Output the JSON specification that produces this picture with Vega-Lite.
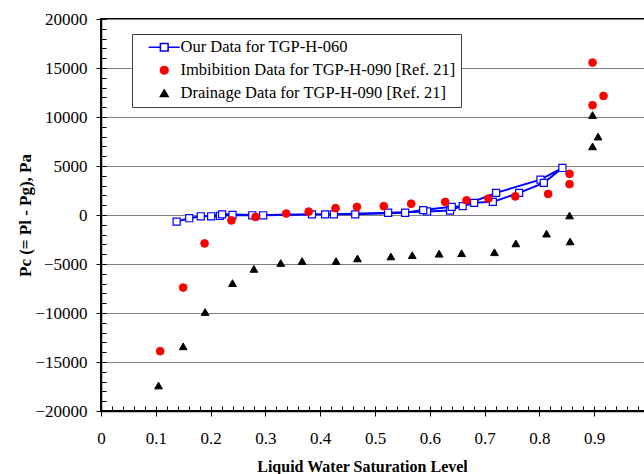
{
  "$schema": "https://vega.github.io/schema/vega-lite/v6.json",
  "width": 548,
  "height": 392,
  "autosize": {"type": "none"},
  "padding": {"left": 101, "top": 19, "right": 0, "bottom": 63},
  "background": "white",
  "config": {
    "view": {"stroke": "black", "strokeWidth": 2},
    "font": "Liberation Serif",
    "legend": {"strokeWidth": 1},
    "axis": {
      "labelFont": "Liberation Serif",
      "labelFontSize": 17,
      "labelColor": "black",
      "titleFont": "Liberation Serif",
      "titleFontWeight": "bold",
      "titleColor": "black",
      "domainColor": "black",
      "domainWidth": 1.5,
      "tickColor": "black",
      "tickWidth": 1
    }
  },
  "datasets": {
    "ours": [
      {"seq": 1, "S": 0.138, "Pc": -670},
      {"seq": 2, "S": 0.161, "Pc": -330},
      {"seq": 3, "S": 0.182, "Pc": -130},
      {"seq": 4, "S": 0.217, "Pc": -100},
      {"seq": 5, "S": 0.240, "Pc": 0},
      {"seq": 6, "S": 0.276, "Pc": -30},
      {"seq": 7, "S": 0.385, "Pc": 70},
      {"seq": 8, "S": 0.425, "Pc": 70},
      {"seq": 9, "S": 0.524, "Pc": 230},
      {"seq": 10, "S": 0.595, "Pc": 360},
      {"seq": 11, "S": 0.637, "Pc": 460},
      {"seq": 12, "S": 0.721, "Pc": 2260},
      {"seq": 13, "S": 0.802, "Pc": 3610},
      {"seq": 14, "S": 0.842, "Pc": 4800},
      {"seq": 15, "S": 0.808, "Pc": 3280},
      {"seq": 16, "S": 0.763, "Pc": 2260},
      {"seq": 17, "S": 0.715, "Pc": 1340},
      {"seq": 18, "S": 0.681, "Pc": 1240},
      {"seq": 19, "S": 0.660, "Pc": 900},
      {"seq": 20, "S": 0.640, "Pc": 830},
      {"seq": 21, "S": 0.588, "Pc": 500},
      {"seq": 22, "S": 0.555, "Pc": 230},
      {"seq": 23, "S": 0.464, "Pc": 70},
      {"seq": 24, "S": 0.409, "Pc": 70},
      {"seq": 25, "S": 0.296, "Pc": -30},
      {"seq": 26, "S": 0.221, "Pc": 70},
      {"seq": 27, "S": 0.201, "Pc": -130}
    ],
    "ref": [
      {"series": "Imbibition Data for TGP-H-090 [Ref. 21]", "S": 0.108, "Pc": -13900},
      {"series": "Imbibition Data for TGP-H-090 [Ref. 21]", "S": 0.150, "Pc": -7400},
      {"series": "Imbibition Data for TGP-H-090 [Ref. 21]", "S": 0.189, "Pc": -2900},
      {"series": "Imbibition Data for TGP-H-090 [Ref. 21]", "S": 0.238, "Pc": -550},
      {"series": "Imbibition Data for TGP-H-090 [Ref. 21]", "S": 0.282, "Pc": -200},
      {"series": "Imbibition Data for TGP-H-090 [Ref. 21]", "S": 0.338, "Pc": 150},
      {"series": "Imbibition Data for TGP-H-090 [Ref. 21]", "S": 0.379, "Pc": 350},
      {"series": "Imbibition Data for TGP-H-090 [Ref. 21]", "S": 0.428, "Pc": 700},
      {"series": "Imbibition Data for TGP-H-090 [Ref. 21]", "S": 0.467, "Pc": 830},
      {"series": "Imbibition Data for TGP-H-090 [Ref. 21]", "S": 0.516, "Pc": 900},
      {"series": "Imbibition Data for TGP-H-090 [Ref. 21]", "S": 0.566, "Pc": 1150},
      {"series": "Imbibition Data for TGP-H-090 [Ref. 21]", "S": 0.628, "Pc": 1340},
      {"series": "Imbibition Data for TGP-H-090 [Ref. 21]", "S": 0.667, "Pc": 1500},
      {"series": "Imbibition Data for TGP-H-090 [Ref. 21]", "S": 0.707, "Pc": 1680},
      {"series": "Imbibition Data for TGP-H-090 [Ref. 21]", "S": 0.756, "Pc": 1900},
      {"series": "Imbibition Data for TGP-H-090 [Ref. 21]", "S": 0.816, "Pc": 2150},
      {"series": "Imbibition Data for TGP-H-090 [Ref. 21]", "S": 0.855, "Pc": 3150},
      {"series": "Imbibition Data for TGP-H-090 [Ref. 21]", "S": 0.855, "Pc": 4200},
      {"series": "Imbibition Data for TGP-H-090 [Ref. 21]", "S": 0.897, "Pc": 11200},
      {"series": "Imbibition Data for TGP-H-090 [Ref. 21]", "S": 0.897, "Pc": 15550},
      {"series": "Imbibition Data for TGP-H-090 [Ref. 21]", "S": 0.917, "Pc": 12150},
      {"series": "Drainage Data for TGP-H-090 [Ref. 21]", "S": 0.105, "Pc": -17400},
      {"series": "Drainage Data for TGP-H-090 [Ref. 21]", "S": 0.150, "Pc": -13400},
      {"series": "Drainage Data for TGP-H-090 [Ref. 21]", "S": 0.190, "Pc": -9900},
      {"series": "Drainage Data for TGP-H-090 [Ref. 21]", "S": 0.240, "Pc": -6950},
      {"series": "Drainage Data for TGP-H-090 [Ref. 21]", "S": 0.279, "Pc": -5500},
      {"series": "Drainage Data for TGP-H-090 [Ref. 21]", "S": 0.328, "Pc": -4900},
      {"series": "Drainage Data for TGP-H-090 [Ref. 21]", "S": 0.367, "Pc": -4700},
      {"series": "Drainage Data for TGP-H-090 [Ref. 21]", "S": 0.429, "Pc": -4700},
      {"series": "Drainage Data for TGP-H-090 [Ref. 21]", "S": 0.468, "Pc": -4430},
      {"series": "Drainage Data for TGP-H-090 [Ref. 21]", "S": 0.529, "Pc": -4230},
      {"series": "Drainage Data for TGP-H-090 [Ref. 21]", "S": 0.568, "Pc": -4100},
      {"series": "Drainage Data for TGP-H-090 [Ref. 21]", "S": 0.617, "Pc": -3950},
      {"series": "Drainage Data for TGP-H-090 [Ref. 21]", "S": 0.658, "Pc": -3900},
      {"series": "Drainage Data for TGP-H-090 [Ref. 21]", "S": 0.718, "Pc": -3800},
      {"series": "Drainage Data for TGP-H-090 [Ref. 21]", "S": 0.757, "Pc": -2900},
      {"series": "Drainage Data for TGP-H-090 [Ref. 21]", "S": 0.813, "Pc": -1900},
      {"series": "Drainage Data for TGP-H-090 [Ref. 21]", "S": 0.855, "Pc": -50},
      {"series": "Drainage Data for TGP-H-090 [Ref. 21]", "S": 0.856, "Pc": -2700},
      {"series": "Drainage Data for TGP-H-090 [Ref. 21]", "S": 0.897, "Pc": 10200},
      {"series": "Drainage Data for TGP-H-090 [Ref. 21]", "S": 0.907, "Pc": 8000},
      {"series": "Drainage Data for TGP-H-090 [Ref. 21]", "S": 0.897, "Pc": 7000}
    ]
  },
  "layer": [
    {
      "data": {"name": "ours"},
      "mark": {"type": "line", "color": "#0000FF", "strokeWidth": 2},
      "encoding": {
        "x": {
          "field": "S", "type": "quantitative",
          "scale": {"domain": [0, 1], "nice": false, "zero": false},
          "axis": {
            "orient": "bottom",
            "values": [0, 0.1, 0.2, 0.3, 0.4, 0.5, 0.6, 0.7, 0.8, 0.9],
            "format": "~g",
            "grid": false,
            "tickSize": 5,
            "labelPadding": 14,
            "labelFlush": false,
            "labelOverlap": false,
            "title": "Liquid Water Saturation Level",
            "titleFontSize": 16,
            "titleX": 261,
            "titleY": 47,
            "titleAlign": "center",
            "titleBaseline": "top"
          }
        },
        "y": {
          "field": "Pc", "type": "quantitative",
          "scale": {"domain": [-20000, 20000], "nice": false, "zero": false},
          "axis": {
            "orient": "left",
            "values": [-20000, -15000, -10000, -5000, 0, 5000, 10000, 15000, 20000],
            "format": "d",
            "grid": true,
            "gridColor": "#808080",
            "gridWidth": 1,
            "tickSize": 5,
            "labelPadding": 9,
            "labelFlush": false,
            "labelOverlap": false,
            "title": "Pc (= Pl - Pg), Pa",
            "titleFontSize": 17,
            "titleAngle": 270,
            "titleX": -76,
            "titleY": 196,
            "titleAlign": "center",
            "titleBaseline": "middle"
          }
        },
        "order": {"field": "seq", "type": "quantitative"}
      }
    },
    {
      "data": {"name": "ours"},
      "mark": {"type": "point", "shape": "square", "filled": true, "fill": "white", "stroke": "#0000FF", "strokeWidth": 1.2, "size": 50, "opacity": 1},
      "encoding": {
        "x": {
          "field": "S", "type": "quantitative",
          "axis": {
            "orient": "bottom",
            "values": [0, 0.02, 0.04, 0.06, 0.08, 0.1, 0.12, 0.14, 0.16, 0.18, 0.2, 0.22, 0.24, 0.26, 0.28, 0.3, 0.32, 0.34, 0.36, 0.38, 0.4, 0.42, 0.44, 0.46, 0.48, 0.5, 0.52, 0.54, 0.56, 0.58, 0.6, 0.62, 0.64, 0.66, 0.68, 0.7, 0.72, 0.74, 0.76, 0.78, 0.8, 0.82, 0.84, 0.86, 0.88, 0.9, 0.92, 0.94, 0.96, 0.98, 1],
            "labels": false, "domain": false, "grid": false, "tickSize": -5, "title": null
          }
        },
        "y": {
          "field": "Pc", "type": "quantitative",
          "axis": {
            "orient": "left",
            "values": [-20000, -19000, -18000, -17000, -16000, -15000, -14000, -13000, -12000, -11000, -10000, -9000, -8000, -7000, -6000, -5000, -4000, -3000, -2000, -1000, 0, 1000, 2000, 3000, 4000, 5000, 6000, 7000, 8000, 9000, 10000, 11000, 12000, 13000, 14000, 15000, 16000, 17000, 18000, 19000, 20000],
            "labels": false, "domain": false, "grid": false, "tickSize": -5, "title": null
          }
        }
      }
    },
    {
      "data": {"name": "ref"},
      "mark": {"type": "point", "filled": true, "size": 60, "strokeWidth": 1, "opacity": 1},
      "encoding": {
        "x": {"field": "S", "type": "quantitative", "axis": null},
        "y": {"field": "Pc", "type": "quantitative", "axis": null},
        "fill": {
          "field": "series", "type": "nominal",
          "scale": {
            "domain": ["Our Data for TGP-H-060", "Imbibition Data for TGP-H-090 [Ref. 21]", "Drainage Data for TGP-H-090 [Ref. 21]"],
            "range": ["white", "#FF0000", "black"]
          },
          "legend": {
            "orient": "none", "legendX": 31, "legendY": 15, "title": null, "direction": "vertical",
            "fillColor": "white", "strokeColor": "#404040", "cornerRadius": 0,
            "padding": 5, "rowPadding": 6,
            "labelFont": "Liberation Serif", "labelFontSize": 16.5, "labelColor": "black", "labelLimit": 400,
            "symbolSize": 60, "symbolStrokeWidth": 1.5, "symbolOffset": 19, "labelOffset": 8
          }
        },
        "stroke": {
          "field": "series", "type": "nominal",
          "scale": {
            "domain": ["Our Data for TGP-H-060", "Imbibition Data for TGP-H-090 [Ref. 21]", "Drainage Data for TGP-H-090 [Ref. 21]"],
            "range": ["#0000FF", "#FF0000", "black"]
          },
          "legend": {
            "orient": "none", "legendX": 31, "legendY": 15, "title": null, "direction": "vertical",
            "fillColor": "white", "strokeColor": "#404040", "cornerRadius": 0,
            "padding": 5, "rowPadding": 6,
            "labelFont": "Liberation Serif", "labelFontSize": 16.5, "labelColor": "black", "labelLimit": 400,
            "symbolSize": 60, "symbolStrokeWidth": 1.5, "symbolOffset": 19, "labelOffset": 8
          }
        },
        "shape": {
          "field": "series", "type": "nominal",
          "scale": {
            "domain": ["Our Data for TGP-H-060", "Imbibition Data for TGP-H-090 [Ref. 21]", "Drainage Data for TGP-H-090 [Ref. 21]"],
            "range": ["M-4,0H-1M1,0H4M-1,-1H1V1H-1Z", "circle", "triangle-up"]
          },
          "legend": {
            "orient": "none", "legendX": 31, "legendY": 15, "title": null, "direction": "vertical",
            "fillColor": "white", "strokeColor": "#404040", "cornerRadius": 0,
            "padding": 5, "rowPadding": 6,
            "labelFont": "Liberation Serif", "labelFontSize": 16.5, "labelColor": "black", "labelLimit": 400,
            "symbolSize": 60, "symbolStrokeWidth": 1.5, "symbolOffset": 19, "labelOffset": 8
          }
        }
      }
    }
  ],
  "resolve": {"axis": {"x": "independent", "y": "independent"}}
}
